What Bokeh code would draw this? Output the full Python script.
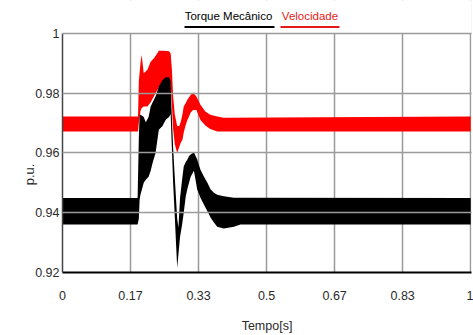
from bokeh.plotting import figure
from bokeh.models import Range1d, FixedTicker, Label, BoxAnnotation, ColumnDataSource
from bokeh.embed import file_html
from bokeh.resources import INLINE

# ---- data ----
# Torque Mecânico: envelope of the oscillating signal (upper / lower)
t_torque = [0.000, 0.184, 0.187, 0.189, 0.191, 0.199, 0.204, 0.211, 0.216, 0.221,
            0.228, 0.236, 0.245, 0.253, 0.261, 0.265, 0.267, 0.271, 0.275, 0.278,
            0.281, 0.284, 0.288, 0.293, 0.297, 0.302, 0.306, 0.310, 0.314, 0.322,
            0.330, 0.338, 0.346, 0.355, 0.363, 0.371, 0.379, 0.395, 0.420, 0.436,
            1.000]
torque_hi = [0.9449, 0.9449, 0.9650, 0.9728, 0.9728, 0.9720, 0.9703, 0.9720, 0.9755, 0.9770,
             0.9789, 0.9822, 0.9844, 0.9853, 0.9853, 0.9840, 0.9750, 0.9620, 0.9520, 0.9450,
             0.9380, 0.9350, 0.9450, 0.9510, 0.9555, 0.9570, 0.9578, 0.9590, 0.9595, 0.9602,
             0.9578, 0.9544, 0.9522, 0.9500, 0.9478, 0.9467, 0.9460, 0.9455, 0.9450, 0.9450,
             0.9449]
torque_lo = [0.9361, 0.9361, 0.9380, 0.9444, 0.9460, 0.9500, 0.9510, 0.9520, 0.9540, 0.9568,
             0.9600, 0.9678, 0.9690, 0.9711, 0.9720, 0.9730, 0.9650, 0.9500, 0.9390, 0.9300,
             0.9215, 0.9260, 0.9320, 0.9360, 0.9400, 0.9455, 0.9480, 0.9500, 0.9520, 0.9540,
             0.9478, 0.9450, 0.9428, 0.9405, 0.9383, 0.9367, 0.9353, 0.9347, 0.9353, 0.9361,
             0.9361]

# Velocidade: envelope of the oscillating signal (upper / lower)
t_vel = [0.000, 0.185, 0.187, 0.191, 0.194, 0.199, 0.208, 0.216, 0.224, 0.232,
         0.236, 0.248, 0.261, 0.265, 0.268, 0.271, 0.275, 0.281, 0.286, 0.290,
         0.294, 0.297, 0.302, 0.306, 0.310, 0.314, 0.320, 0.328, 0.338, 0.350,
         0.362, 0.379, 0.395, 1.000]
vel_hi = [0.9722, 0.9722, 0.9840, 0.9900, 0.9928, 0.9867, 0.9878, 0.9905, 0.9917, 0.9933,
          0.9942, 0.9942, 0.9940, 0.9933, 0.9880, 0.9790, 0.9730, 0.9690, 0.9690, 0.9705,
          0.9730, 0.9755, 0.9767, 0.9778, 0.9786, 0.9794, 0.9802, 0.9789, 0.9761, 0.9739,
          0.9728, 0.9722, 0.9718, 0.9722]
vel_lo = [0.9672, 0.9672, 0.9700, 0.9740, 0.9750, 0.9755, 0.9755, 0.9770, 0.9790, 0.9810,
          0.9820, 0.9840, 0.9840, 0.9830, 0.9760, 0.9680, 0.9630, 0.9600, 0.9620, 0.9635,
          0.9644, 0.9668, 0.9694, 0.9710, 0.9722, 0.9735, 0.9744, 0.9744, 0.9710, 0.9692,
          0.9680, 0.9672, 0.9672, 0.9672]

x_ticks = [0, 1 / 6, 2 / 6, 3 / 6, 4 / 6, 5 / 6, 1]
x_tick_labels = ["0", "0.17", "0.33", "0.5", "0.67", "0.83", "1"]
y_ticks = [0.92, 0.94, 0.96, 0.98, 1.0]
y_tick_labels = ["0.92", "0.94", "0.96", "0.98", "1"]

series_names = ["Torque Mecânico", "Velocidade"]
x_label = "Tempo[s]"
y_label = "p.u."

FONT = "Liberation Sans"
RED = "#ff0000"
LEG_RED = "#e41a1a"
TXT = "#2a2a2a"
GRID = "#9a9a9a"

# plotted y-range is 0.92..1; the frame is extended upward by 33 px to hold the legend
Y_MIN, Y_MAX = 0.92, 1.0
FRAME_H, EXTRA_TOP = 240, 33
y_top = Y_MAX + (Y_MAX - Y_MIN) * EXTRA_TOP / FRAME_H

p = figure(width=473, height=335, x_range=Range1d(0, 1.002), y_range=Range1d(Y_MIN, y_top),
           output_backend="svg", toolbar_location=None,
           min_border_left=62, min_border_right=2, min_border_top=0, min_border_bottom=62)
p.background_fill_color = "white"
p.border_fill_color = "white"
p.outline_line_color = None

vel_src = ColumnDataSource(dict(t=t_vel, hi=vel_hi, lo=vel_lo))
tor_src = ColumnDataSource(dict(t=t_torque, hi=torque_hi, lo=torque_lo))
p.varea(x="t", y1="lo", y2="hi", source=vel_src, fill_color=RED)
p.varea(x="t", y1="lo", y2="hi", source=tor_src, fill_color="black")

# axes
p.xaxis.ticker = FixedTicker(ticks=x_ticks)
p.yaxis.ticker = FixedTicker(ticks=y_ticks)
p.xaxis.major_label_overrides = dict(zip(x_ticks, x_tick_labels))
p.yaxis.major_label_overrides = dict(zip(y_ticks, y_tick_labels))
p.yaxis.bounds = (Y_MIN, Y_MAX)
for ax in (p.xaxis, p.yaxis):
    ax.minor_tick_line_color = None
    ax.major_tick_in = 0
    ax.major_tick_out = 0
    ax.major_label_text_font = FONT
    ax.major_label_text_font_size = "12.5px"
    ax.major_label_text_color = TXT
p.xaxis.axis_line_color = "black"
p.xaxis.axis_line_width = 2
p.yaxis.axis_line_color = "#444444"
p.yaxis.axis_line_width = 1.5
p.xaxis.major_label_standoff = 18
p.yaxis.major_label_standoff = 3

p.xaxis.axis_label = x_label
p.xaxis.axis_label_text_font = FONT
p.xaxis.axis_label_text_font_size = "12.5px"
p.xaxis.axis_label_text_font_style = "normal"
p.xaxis.axis_label_text_color = TXT
p.xaxis.axis_label_standoff = 16

p.xgrid.ticker = FixedTicker(ticks=x_ticks)
p.ygrid.ticker = FixedTicker(ticks=y_ticks)
p.xgrid.grid_line_color = GRID
p.ygrid.grid_line_color = GRID
p.xgrid.grid_line_width = 1.5
p.ygrid.grid_line_width = 1.5
p.ygrid.level = "overlay"

# white strip above the plotted area (hides vertical grid lines in the legend band)
p.add_layout(BoxAnnotation(bottom=Y_MAX, fill_color="white", fill_alpha=1, line_color=None))

# y title in the left panel
p.add_layout(Label(x=12, y=98, x_units="screen", y_units="screen", text=y_label,
                   angle=1.5708, text_font=FONT, text_font_size="13px", text_color=TXT,
                   text_align="center", text_baseline="middle"), "left")

# legend at the top: coloured text with an underline
p.add_layout(Label(x=166, y=257, x_units="screen", y_units="screen", text=series_names[0],
                   text_font=FONT, text_font_size="11.5px", text_color="black",
                   text_align="center", text_baseline="middle"))
p.add_layout(Label(x=247.5, y=257, x_units="screen", y_units="screen", text=series_names[1],
                   text_font=FONT, text_font_size="11.5px", text_color=LEG_RED,
                   text_align="center", text_baseline="middle"))
p.add_layout(BoxAnnotation(left=122, right=212, bottom=244.5, top=246.5,
                           left_units="screen", right_units="screen",
                           bottom_units="screen", top_units="screen",
                           fill_color="black", fill_alpha=1, line_color=None))
p.add_layout(BoxAnnotation(left=218, right=277, bottom=244.5, top=246.5,
                           left_units="screen", right_units="screen",
                           bottom_units="screen", top_units="screen",
                           fill_color=LEG_RED, fill_alpha=1, line_color=None))

open("out.html", "w").write(file_html(p, INLINE))
